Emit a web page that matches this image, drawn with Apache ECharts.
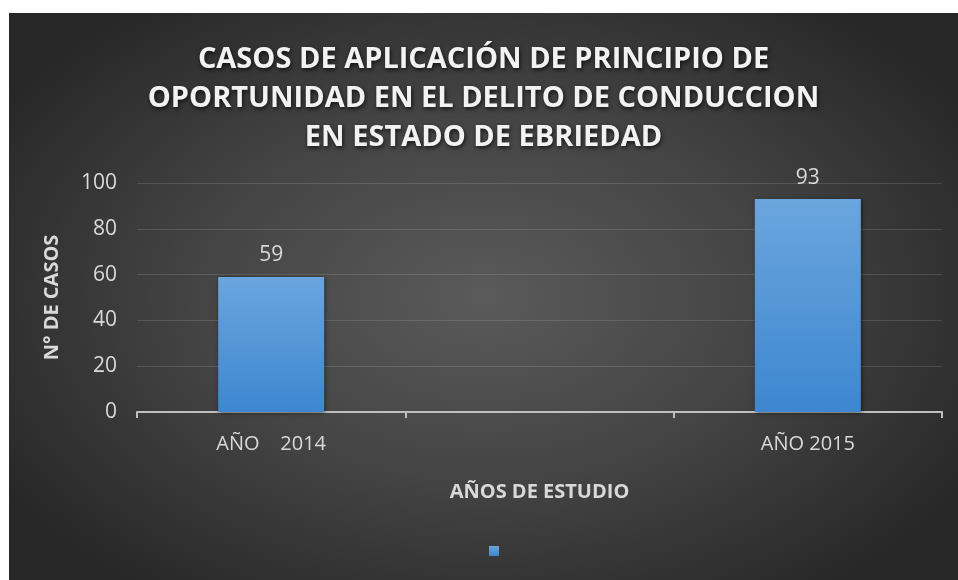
<!DOCTYPE html>
<html>
<head>
<meta charset="utf-8">
<script src="https://cdn.jsdelivr.net/npm/echarts@6/dist/echarts.min.js"></script>
<style>
  html, body { margin: 0; padding: 0; background: #fff; }
  #chart {
    position: absolute; left: 9px; top: 13px; width: 949px; height: 567px;
    background: radial-gradient(ellipse 60% 65% at 50% 50%, #5a5a5a 0%, #444 50%, #272727 100%);
  }
</style>
</head>
<body>
<div id="chart"></div>
<script>
// datos del gráfico
const categorias = ['AÑO    2014', '', 'AÑO 2015']
const casos = [59, null, 93]
const yTicks = [0, 20, 40, 60, 80, 100]

const chart = echarts.init(document.getElementById('chart'))
const gris = '#d9d9d9'
const fuente = '"Open Sans", sans-serif'

chart.setOption({
  backgroundColor: 'transparent',
  animation: false,
  title: {
    text: 'CASOS DE APLICACIÓN DE PRINCIPIO DE\nOPORTUNIDAD EN EL DELITO DE CONDUCCION\nEN ESTADO DE EBRIEDAD',
    left: 'center',
    top: 22,
    textStyle: {
      color: '#f2f2f2', fontFamily: fuente, fontSize: 29, fontWeight: 'bold', lineHeight: 39,
      textShadowColor: 'rgba(0,0,0,0.7)', textShadowBlur: 4, textShadowOffsetX: 1, textShadowOffsetY: 2
    }
  },
  legend: {
    data: [' '],
    left: 475, top: 527,
    icon: 'rect', itemWidth: 10, itemHeight: 10,
    textStyle: { color: gris, fontSize: 12 }
  },
  grid: { left: 128, right: 16, top: 170, bottom: 168 },
  xAxis: {
    type: 'category',
    data: categorias,
    name: 'AÑOS DE ESTUDIO',
    nameLocation: 'middle',
    nameGap: 70,
    nameTextStyle: { color: gris, fontFamily: fuente, fontSize: 20, fontWeight: 'bold' },
    axisLine: { lineStyle: { color: '#bfbfbf', width: 2 } },
    axisTick: { show: true, length: 6, lineStyle: { color: '#bfbfbf', width: 2 } },
    axisLabel: { color: gris, fontFamily: fuente, fontSize: 20, margin: 22 }
  },
  yAxis: {
    type: 'value',
    min: yTicks[0], max: yTicks[yTicks.length - 1], interval: 20,
    name: 'N° DE CASOS',
    nameLocation: 'middle',
    nameGap: 75,
    nameTextStyle: { color: gris, fontFamily: fuente, fontSize: 20, fontWeight: 'bold' },
    axisLine: { show: false },
    axisTick: { show: false },
    axisLabel: { color: gris, fontFamily: fuente, fontSize: 21, margin: 20 },
    splitLine: { lineStyle: { color: 'rgba(255,255,255,0.13)', width: 1 } }
  },
  series: [{
    name: ' ',
    type: 'bar',
    data: casos,
    barWidth: '39.5%',
    itemStyle: {
      color: new echarts.graphic.LinearGradient(0, 0, 0, 1, [
        { offset: 0, color: '#6ba5de' },
        { offset: 1, color: '#3d87d0' }
      ]),
      shadowColor: 'rgba(0,0,0,0.5)', shadowBlur: 4, shadowOffsetX: 1, shadowOffsetY: 1
    },
    label: {
      show: true, position: 'top', distance: 11,
      color: gris, fontFamily: fuente, fontSize: 21
    }
  }]
})
</script>
</body>
</html>
